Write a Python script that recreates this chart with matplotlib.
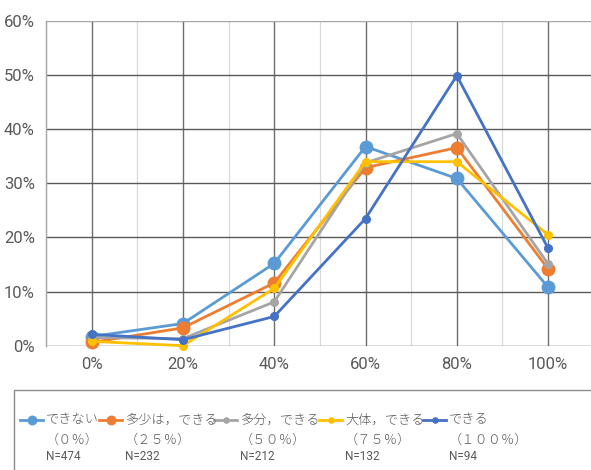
import matplotlib
matplotlib.use("Agg")
import matplotlib.pyplot as plt
from matplotlib.lines import Line2D
from matplotlib.patches import Rectangle

# ---- data -------------------------------------------------------------
x_levels = [0, 20, 40, 60, 80, 100]
x_labels = ["0%", "20%", "40%", "60%", "80%", "100%"]
y_ticks = [0, 10, 20, 30, 40, 50, 60]

names = ["できない", "多少は，できる", "多分，できる", "大体，できる", "できる"]
shares = ["（０％）", "（２５％）", "（５０％）", "（７５％）", "（１００％）"]
counts = ["N=474", "N=232", "N=212", "N=132", "N=94"]

cannot = [1.7, 4.1, 15.2, 36.8, 30.9, 10.8]
somewhat = [0.6, 3.3, 11.6, 32.9, 36.6, 14.2]
probably = [1.5, 1.3, 8.1, 33.8, 39.2, 15.1]
mostly = [0.8, 0.0, 10.6, 34.0, 34.0, 20.5]
can = [2.1, 1.1, 5.4, 23.5, 49.9, 18.0]

series = [cannot, somewhat, probably, mostly, can]
colors = ["#5B9BD5", "#ED7D31", "#A5A5A5", "#FFC000", "#4472C4"]
marker_sizes = [9, 9, 5.5, 5.5, 5.5]

# ---- figure -----------------------------------------------------------
W, H = 591, 470
fig = plt.figure(figsize=(W / 100, H / 100), dpi=100)
fig.patch.set_facecolor("white")

ax = fig.add_axes([46 / W, 1 - 345.7 / H, 545 / W, (345.7 - 21) / H])
ax.set_xlim(-10, 109.4)
ax.set_ylim(0, 60)

# grid
for xv in range(-10, 110, 20):
    ax.axvline(xv, color="#D9D9D9", lw=0.9, zorder=0)
for xv in x_levels:
    ax.axvline(xv, color="#6E6E6E", lw=1.0, zorder=0.5)
for yv in y_ticks:
    col = "#A6A6A6" if yv == 60 else "#595959"
    ax.axhline(yv, color=col, lw=1.0, zorder=0.6)

for sp in ax.spines.values():
    sp.set_visible(False)
ax.spines["left"].set_visible(True)
ax.spines["left"].set_color("#A6A6A6")
ax.spines["left"].set_linewidth(1.0)

tick_font = dict(family=["Roboto", "DejaVu Sans"], size=12, color="#595959")
ax.set_xticks(x_levels)
ax.set_xticklabels(x_labels, **tick_font)
ax.set_yticks(y_ticks)
ax.set_yticklabels([f"{v}%" for v in y_ticks], **tick_font)
ax.tick_params(axis="both", length=0)
ax.tick_params(axis="x", pad=8)
ax.tick_params(axis="y", pad=8)

for vals, c, ms in zip(series, colors, marker_sizes):
    ax.plot(x_levels, vals, color=c, lw=2.0, marker="o", ms=ms,
            markeredgecolor=c, zorder=3, clip_on=False)

# ---- legend (drawn in figure pixels) ---------------------------------
def fx(px):
    return px / W

def fy(py):
    return 1 - py / H

fig.add_artist(Rectangle((fx(14), fy(480)), fx(600) - fx(14), fy(390) - fy(480),
                         transform=fig.transFigure, fill=False,
                         edgecolor="#8C8C8C", lw=1.0))

text_x = [46, 125, 240, 345, 449]
cjk = ["Noto Sans CJK JP", "DejaVu Sans"]
for i, tx in enumerate(text_x):
    c = colors[i]
    ms = marker_sizes[i] * 0.68
    fig.add_artist(Line2D([fx(tx - 26), fx(tx - 3)], [fy(420), fy(420)],
                          transform=fig.transFigure, color=c, lw=2.0))
    fig.add_artist(Line2D([fx(tx - 14.5)], [fy(420)], transform=fig.transFigure,
                          color=c, marker="o", ms=ms, markeredgecolor=c))
    fig.text(fx(tx), fy(420), names[i], family=cjk, size=9.5, weight="light",
             color="#595959", ha="left", va="center")
    fig.text(fx(tx), fy(440), shares[i], family=cjk, size=9.5, weight="light",
             color="#595959", ha="left", va="center")
    fig.text(fx(tx), fy(457), counts[i],
             family=["Roboto", "DejaVu Sans"], size=8.5,
             color="#595959", ha="left", va="center")

fig.savefig("out.png", dpi=100)
